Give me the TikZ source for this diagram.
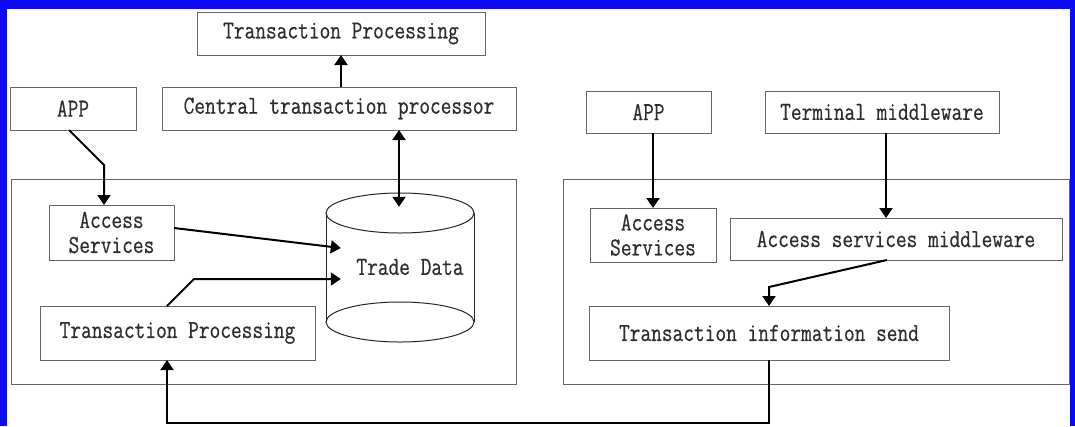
\documentclass[tikz,border=0pt]{standalone}
\usepackage{fontspec}
\newfontfamily\monof[FakeStretch=0.8,FakeBold=0.4]{Latin Modern Mono}
\usetikzlibrary{arrows.meta,calc}
\definecolor{frameblue}{RGB}{10,10,245}
\definecolor{boxline}{RGB}{100,100,100}
\definecolor{txt}{RGB}{45,45,45}
\tikzset{
  box/.style={draw=boxline, line width=1pt, inner sep=0pt, outer sep=0pt, rectangle,
              font=\monof\fontsize{26}{25}\selectfont, text=txt, align=center},
  arr/.style={line width=2pt, -{Triangle[width=13pt,length=10pt]}},
  darr/.style={line width=2pt, {Triangle[width=13pt,length=10pt]}-{Triangle[width=13pt,length=10pt]}},
  cyl/.style={draw=black!85, line width=1pt}
}
\begin{document}
\begin{tikzpicture}[x=1pt,y=-1pt]
\useasboundingbox (0,0) rectangle (1075,426);
\fill[white] (0,0) rectangle (1075,426);
% blue frame
\fill[frameblue] (0,0) rectangle (7,426);
\fill[frameblue] (0,0) rectangle (1075,9);
\fill[frameblue] (1070,0) rectangle (1075,426);

% containers
\node[box, minimum width=505, minimum height=205] (contL) at (263.5,281.5) {};
\node[box, minimum width=506, minimum height=205] (contR) at (816,281.5) {};

% left part
\node[box, minimum width=288, minimum height=43] (tpTop) at (341,33.5) {Transaction Processing};
\node[box, minimum width=126, minimum height=43] (appL) at (73,108.5) {APP};
\node[box, minimum width=354, minimum height=43] (central) at (339,108.5) {Central transaction processor};
\node[box, minimum width=125, minimum height=55] (asL) at (111.5,232.5) {Access\\Services};
\node[box, minimum width=275, minimum height=54] (tpIn) at (177.5,333) {Transaction Processing};

% cylinder
\draw[cyl] (326,213) -- (326,322) (474,213) -- (474,322);
\draw[cyl] (400,213) ellipse [x radius=74, y radius=20];
\draw[cyl] (400,322) ellipse [x radius=74, y radius=20];
\node[inner sep=0pt, minimum width=148, minimum height=148,
      font=\monof\fontsize{26}{25}\selectfont, text=txt] (trade) at (400,267) {\hspace*{20pt}Trade Data};

% right part
\node[box, minimum width=125, minimum height=42] (appR) at (648.5,112) {APP};
\node[box, minimum width=234, minimum height=42] (tm) at (882,112) {Terminal middleware};
\node[box, minimum width=126, minimum height=54] (asR) at (653,235) {Access\\Services};
\node[box, minimum width=332, minimum height=42] (asm) at (896,239) {Access services middleware};
\node[box, minimum width=360, minimum height=54] (tis) at (769,333) {Transaction information send};

% connectors
\draw[arr] ([xshift=2pt]central.north) -- ([xshift=2pt]central.north |- tpTop.south);
\draw[arr] ($(appL.south)+(-4,0)$) -- ($(asL.north)+(-7.5,-40)$) -- ($(asL.north)+(-7.5,0)$);
\draw[darr] ($(central.south)+(60,0)$) -- ($(trade.north)+(-1,14)$);
\draw[arr] ($(asL.east)+(0,-4.5)$) -- ($(trade.west)+(15,-19)$);
\draw[arr] ($(tpIn.north)+(-10.5,0)$) -- ($(tpIn.north)+(16.5,-27)$) -- ($(trade.west)+(15,12)$);
\draw[arr] (appR.south -| asR.north) -- (asR.north);
\draw[arr] ([xshift=4pt]tm.south) -- ([xshift=4pt]tm.south |- asm.north);
\draw[arr] ($(asm.south)+(-9,0)$) -- ($(tis.north)+(0,-19)$) -- (tis.north);
\draw[arr] (tis.south) -- ($(tis.south)+(0,63)$) -| ($(tpIn.south)+(-10.5,0)$);
\end{tikzpicture}
\end{document}
